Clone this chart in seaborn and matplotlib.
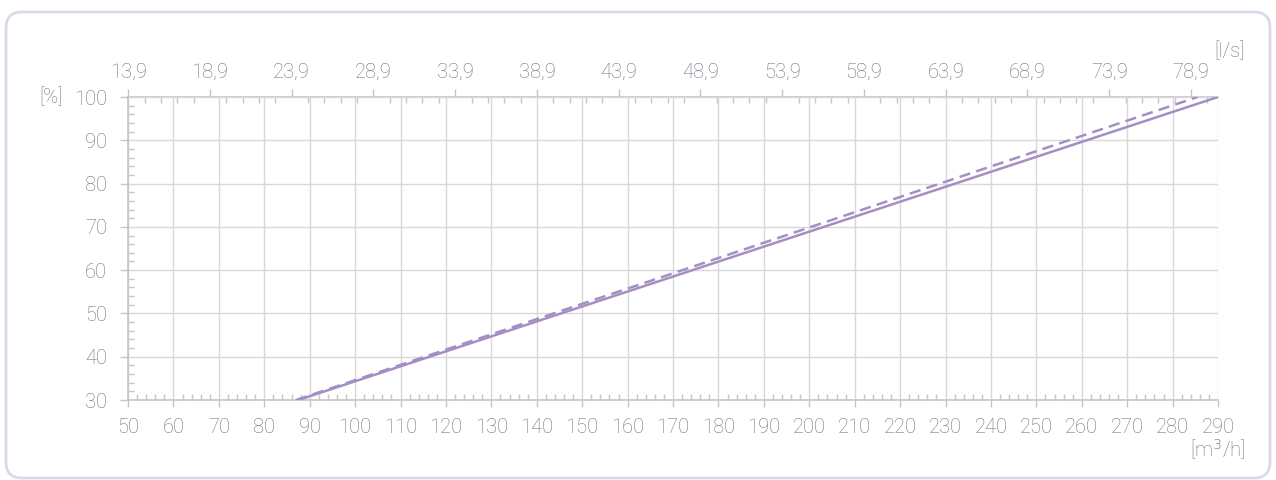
import numpy as np
import pandas as pd
import matplotlib
matplotlib.use("Agg")
import matplotlib.pyplot as plt
import seaborn as sns
from matplotlib.patches import FancyBboxPatch
from matplotlib.transforms import IdentityTransform
from matplotlib.ticker import FixedLocator, MultipleLocator, FuncFormatter

# Flow [m3/h] vs. control signal [%]
flow_solid = [87.5, 290.0]
pct_solid = [30.0, 100.0]
flow_dashed = [87.0, 285.5]
pct_dashed = [30.0, 100.0]

# Axis ticks
flow_ticks = list(range(50, 291, 10))
pct_ticks = list(range(30, 101, 10))
ls_ticks = [13.9, 18.9, 23.9, 28.9, 33.9, 38.9, 43.9, 48.9, 53.9, 58.9, 63.9, 68.9, 73.9, 78.9]

LINE = "#a48fc4"
TEXT = "#6e7380"
GRID = "#d8d8d8"
SPINE = "#c6c6c6"
FS = 14.5

sns.set_theme(style="white")
plt.rcParams["font.family"] = ["Roboto", "DejaVu Sans"]
plt.rcParams["font.weight"] = "light"

fig = plt.figure(figsize=(12.76, 4.8), dpi=100)
ax = fig.add_axes([128 / 1276, 1 - 400 / 480, 1090 / 1276, 303 / 480])

df_solid = pd.DataFrame({"flow": flow_solid, "pct": pct_solid})
df_dashed = pd.DataFrame({"flow": flow_dashed, "pct": pct_dashed})
sns.lineplot(data=df_solid, x="flow", y="pct", ax=ax, color=LINE, lw=1.8, zorder=5)
sns.lineplot(data=df_dashed, x="flow", y="pct", ax=ax, color=LINE, lw=1.8,
             dashes=False, linestyle=(0, (4.5, 2.5)), zorder=5)

ax.set_xlim(50, 290)
ax.set_ylim(30, 100)
ax.set_xlabel("")
ax.set_ylabel("")

ax.xaxis.set_major_locator(FixedLocator(flow_ticks))
ax.xaxis.set_minor_locator(MultipleLocator(2))
ax.yaxis.set_major_locator(FixedLocator(pct_ticks))
ax.yaxis.set_minor_locator(MultipleLocator(2))

ax.grid(True, which="major", color=GRID, lw=1.0)
ax.set_axisbelow(True)

ax.tick_params(axis="x", which="major", bottom=True, direction="out", length=5, width=1,
               color=SPINE, labelcolor=TEXT, labelsize=FS, pad=8)
ax.tick_params(axis="x", which="minor", bottom=True, direction="in", length=4, width=1,
               color=SPINE)
ax.tick_params(axis="y", which="major", left=True, direction="out", length=6, width=1,
               color=SPINE, labelcolor=TEXT, labelsize=FS, pad=9)
ax.tick_params(axis="y", which="minor", left=True, direction="in", length=4, width=1,
               color=SPINE)

for side in ("left", "bottom"):
    ax.spines[side].set_color(SPINE)
    ax.spines[side].set_linewidth(1.2)
ax.spines["top"].set_visible(False)
ax.spines["right"].set_visible(False)

# Secondary flow scale in l/s
sec = ax.secondary_xaxis("top", functions=(lambda x: x / 3.6, lambda x: x * 3.6))
sec.xaxis.set_major_locator(FixedLocator(ls_ticks))
sec.xaxis.set_minor_locator(FixedLocator([t + k for t in ls_ticks for k in range(1, 5)]))
sec.xaxis.set_major_formatter(FuncFormatter(lambda v, p: f"{v:.1f}".replace(".", ",")))
sec.tick_params(axis="x", which="major", top=True, direction="out", length=6, width=1,
                color=SPINE, labelcolor=TEXT, labelsize=FS, pad=5)
sec.tick_params(axis="x", which="minor", top=True, direction="in", length=4, width=1,
                color=SPINE)
sec.spines["top"].set_color(SPINE)
sec.spines["top"].set_linewidth(1.2)

# Unit labels
fig.text(1229 / 1276, 1 - 51 / 480, "[l/s]", color=TEXT, fontsize=FS,
         ha="center", va="center")
fig.text(1245 / 1276, 1 - 450 / 480, "[m$^3$/h]", color=TEXT, fontsize=FS,
         ha="right", va="center")
fig.text(51 / 1276, 1 - 97 / 480, "[%]", color=TEXT, fontsize=FS,
         ha="center", va="center")

# Rounded frame around the card
frame = FancyBboxPatch((6, 2), 1264, 466,
                       boxstyle="round,pad=0,rounding_size=16",
                       transform=IdentityTransform(), fill=False,
                       edgecolor="#dcd9e6", lw=2.0)
fig.patches.append(frame)

fig.savefig("out.png", dpi=100, facecolor="white")
